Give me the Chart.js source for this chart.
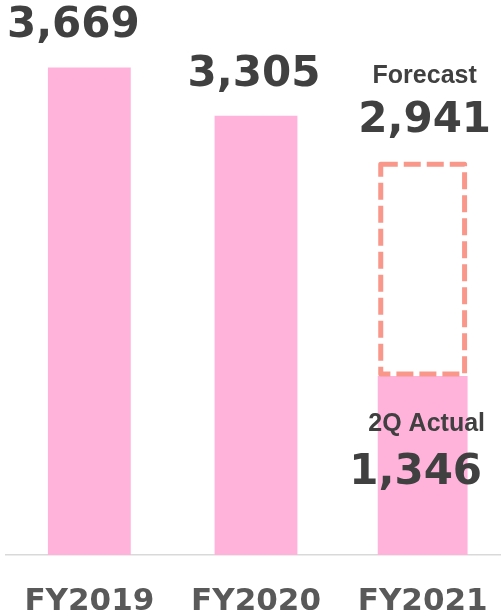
<!DOCTYPE html>
<html>
<head>
<meta charset="utf-8">
<script src="https://cdn.jsdelivr.net/npm/chart.js@4"></script>
<style>
    html, body { margin: 0; padding: 0; background: #fff; overflow: hidden; }
    canvas { display: block; }
</style>
</head>
<body>
<canvas id="chart" width="506" height="616" style="width:506px;height:616px"></canvas>
<script>
const categories = ['FY2019', 'FY2020', 'FY2021'];
const actualValues = [3669, 3305, 1346];
const forecastValues = [null, null, 2941];
const forecastTag = 'Forecast';
const actualTag = '2Q Actual';

const pink = '#ffb3db';
const dashColor = '#f8978a';
const textColor = '#404040';

// years with only actual results, and the year with a forecast
const pastData = actualValues.map((v, i) => forecastValues[i] == null ? v : null);
const currentData = actualValues.map((v, i) => forecastValues[i] == null ? null : v);
const forecastData = forecastValues.map((v, i) => v == null ? null : [actualValues[i], v]);

function fmt(v) {
    return v.toLocaleString('en-US');
}

// small horizontal nudges for the value labels
const labelNudge = [-16, -2, 2];
const numFont = 'bold 42px "DejaVu Sans"';
const tagFont = 'bold 25px "Liberation Sans"';

const labelPlugin = {
    id: 'barLabels',
    afterDatasetsDraw(chart) {
        const ctx = chart.ctx;
        const xs = chart.scales.x;
        const ys = chart.scales.y;
        ctx.save();

        // dashed outline for forecast
        chart.getDatasetMeta(2).data.forEach((bar, i) => {
            if (forecastValues[i] == null) return;
            const p = bar.getProps(['x', 'y', 'base', 'width'], true);
            ctx.setLineDash([17, 6]);
            ctx.lineWidth = 5;
            ctx.lineJoin = 'round';
            ctx.strokeStyle = dashColor;
            ctx.strokeRect(p.x - p.width / 2 + 3, p.y, p.width - 6, p.base - p.y - 2);
        });
        ctx.setLineDash([]);

        ctx.fillStyle = textColor;
        ctx.textAlign = 'center';
        ctx.textBaseline = 'alphabetic';
        categories.forEach((c, i) => {
            const cx = xs.getPixelForValue(i);
            if (forecastValues[i] == null) {
                const top = ys.getPixelForValue(actualValues[i]);
                ctx.font = numFont;
                ctx.fillText(fmt(actualValues[i]), cx + labelNudge[i], top - 30);
            } else {
                const top = ys.getPixelForValue(forecastValues[i]);
                ctx.font = numFont;
                ctx.fillText(fmt(forecastValues[i]), cx + labelNudge[i], top - 32);
                ctx.font = tagFont;
                ctx.fillText(forecastTag, cx + 2, top - 81);

                const aTop = ys.getPixelForValue(actualValues[i]);
                ctx.font = tagFont;
                ctx.fillText(actualTag, cx + 4, aTop + 55);
                ctx.font = numFont;
                ctx.fillText(fmt(actualValues[i]), cx - 7, aTop + 108);
            }
        });
        ctx.restore();
    }
};

new Chart(document.getElementById('chart'), {
    type: 'bar',
    data: {
        labels: categories,
        datasets: [
            {
                label: 'Actual',
                data: pastData,
                backgroundColor: pink,
                barPercentage: 0.497,
                categoryPercentage: 1,
                grouped: false
            },
            {
                label: 'Actual FY2021',
                data: currentData,
                backgroundColor: pink,
                barPercentage: 0.539,
                categoryPercentage: 1,
                grouped: false
            },
            {
                label: 'Forecast',
                data: forecastData,
                backgroundColor: 'rgba(0,0,0,0)',
                barPercentage: 0.539,
                categoryPercentage: 1,
                grouped: false
            }
        ]
    },
    options: {
        responsive: false,
        animation: false,
        layout: { padding: { left: 6, right: 0, top: 0, bottom: 0 } },
        plugins: {
            legend: { display: false },
            tooltip: { enabled: false }
        },
        scales: {
            x: {
                grid: { display: false, drawTicks: false },
                border: { display: true, color: '#d9d9d9', width: 1.5 },
                ticks: {
                    color: '#595959',
                    font: { family: 'DejaVu Sans', size: 31, weight: 'bold' },
                    padding: 28
                },
                afterFit(scale) {
                    scale.height = 61;
                    scale.paddingLeft = 0;
                    scale.paddingRight = 0;
                }
            },
            y: {
                display: false,
                min: 0,
                max: 4176
            }
        }
    },
    plugins: [labelPlugin]
});
</script>
</body>
</html>
